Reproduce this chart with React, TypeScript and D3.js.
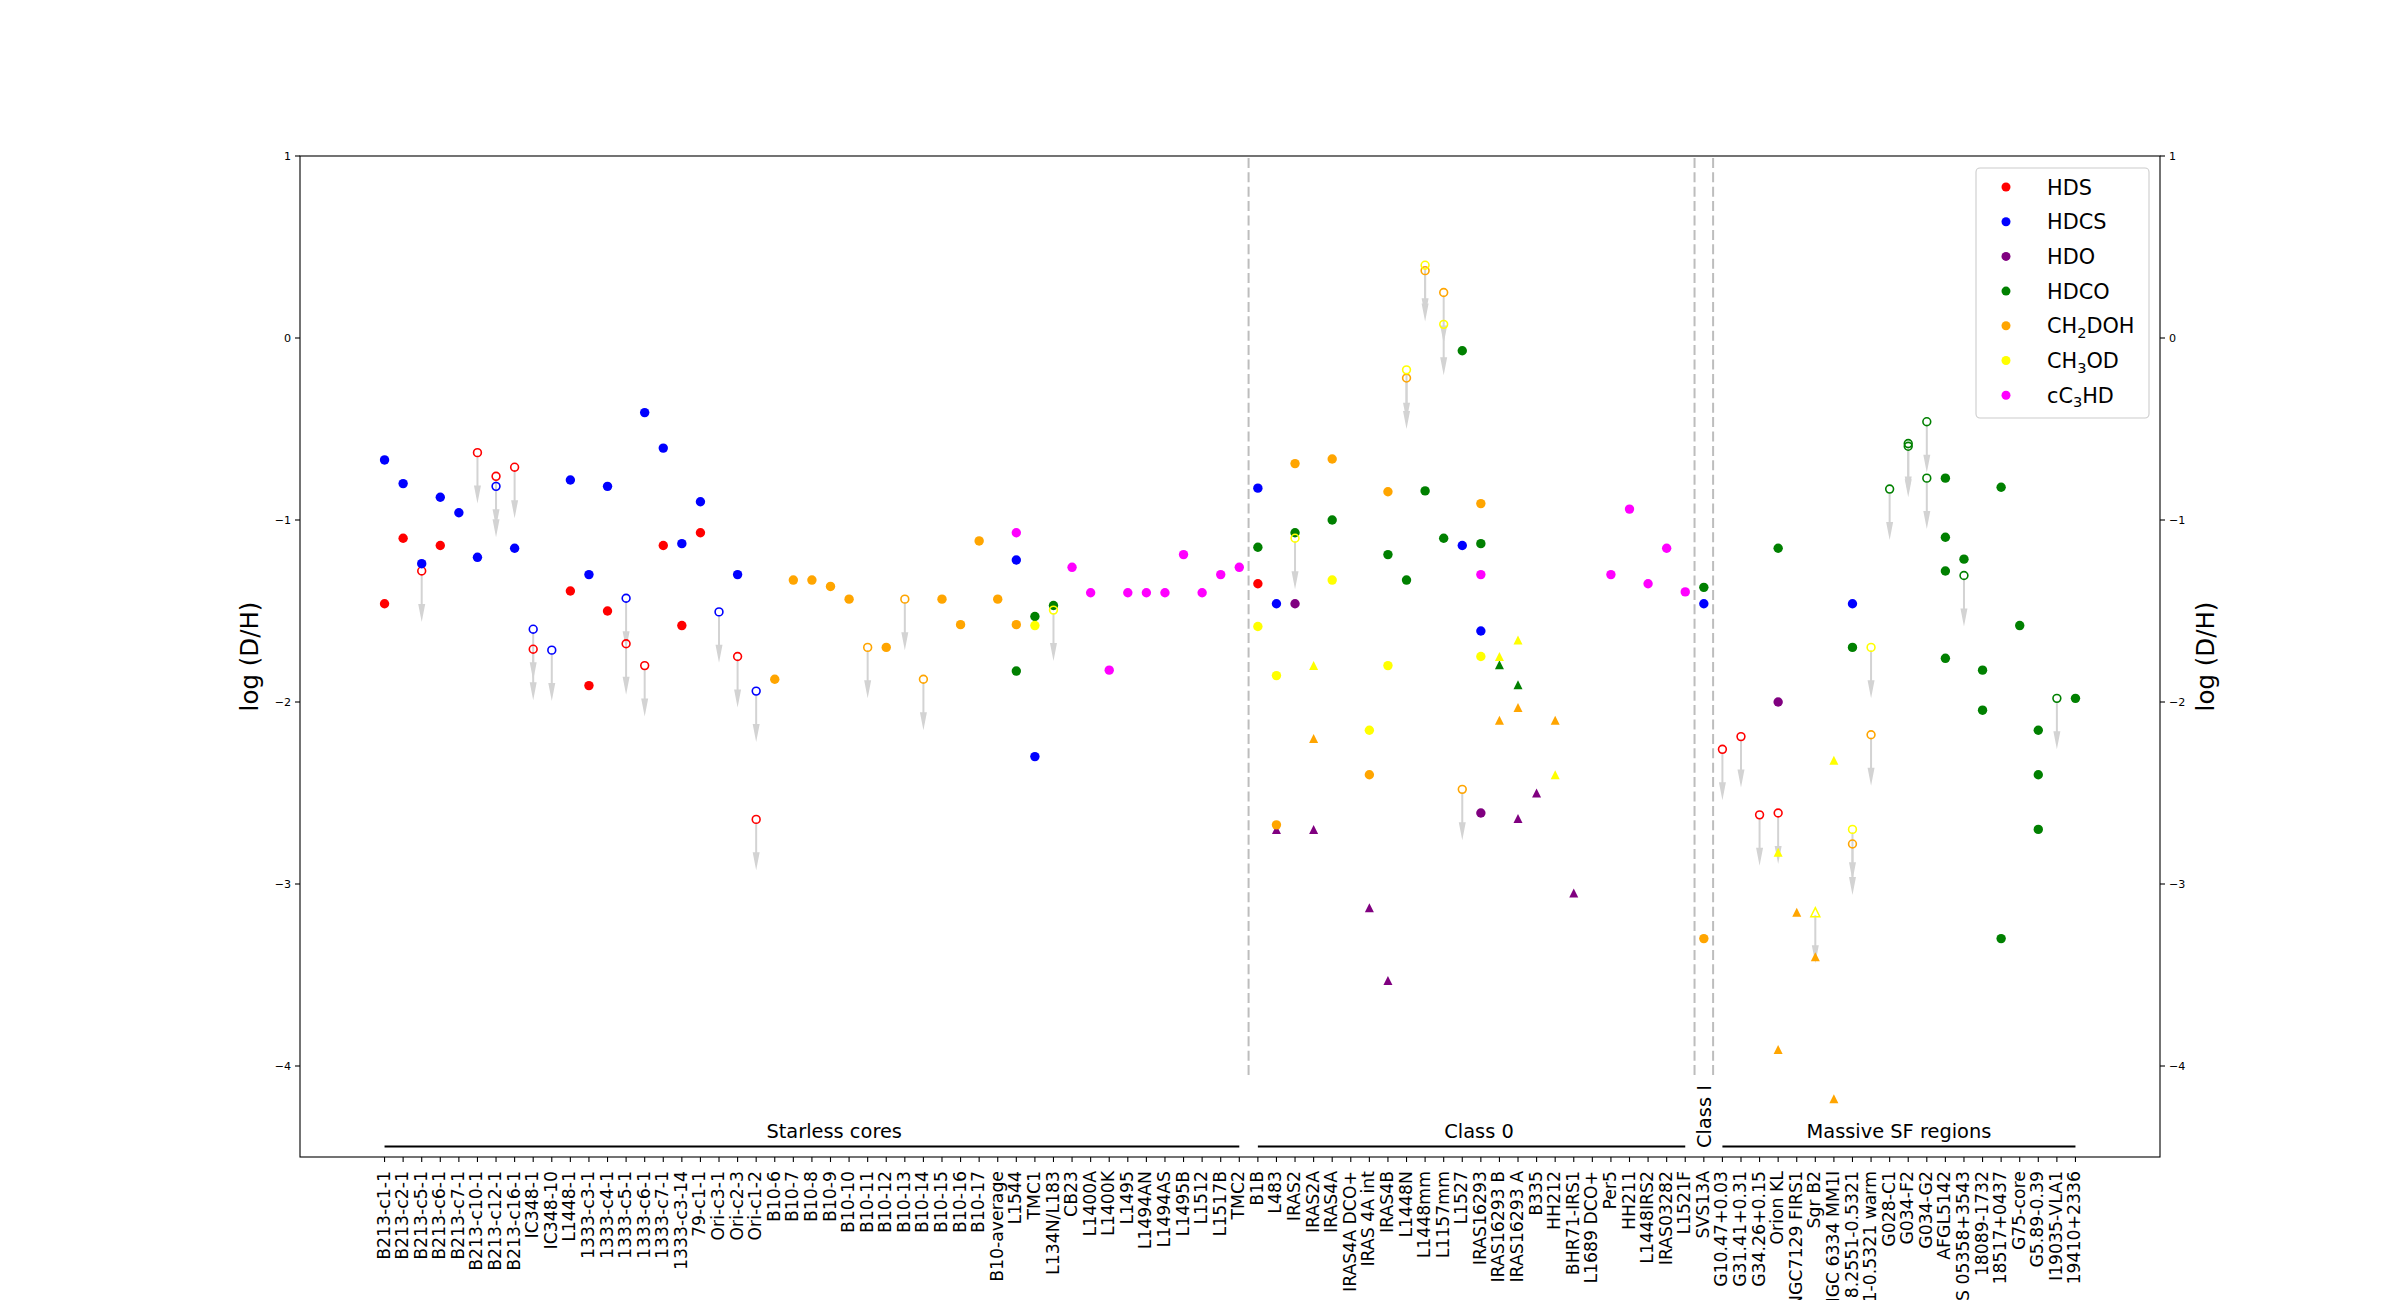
import * as React from "react";
import * as d3 from "d3";

// Source categories, in plotting order
const starless = [
    "B213-c1-1", "B213-c2-1", "B213-c5-1", "B213-c6-1", "B213-c7-1", "B213-c10-1", "B213-c12-1", "B213-c16-1",
    "IC348-1", "IC348-10", "L1448-1", "1333-c3-1", "1333-c4-1", "1333-c5-1", "1333-c6-1", "1333-c7-1",
    "1333-c3-14", "79-c1-1", "Ori-c3-1", "Ori-c2-3", "Ori-c1-2", "B10-6", "B10-7", "B10-8", "B10-9", "B10-10",
    "B10-11", "B10-12", "B10-13", "B10-14", "B10-15", "B10-16", "B10-17", "B10-average", "L1544", "TMC1",
    "L134N/L183", "CB23", "L1400A", "L1400K", "L1495", "L1494AN", "L1494AS", "L1495B", "L1512", "L1517B", "TMC2"
];
const class0 = [
    "B1B", "L483", "IRAS2", "IRAS2A", "IRAS4A", "IRAS4A DCO+", "IRAS 4A int", "IRAS4B", "L1448N", "L1448mm",
    "L1157mm", "L1527", "IRAS16293", "IRAS16293 B", "IRAS16293 A", "B335", "HH212", "BHR71-IRS1",
    "L1689 DCO+", "Per5", "HH211", "L1448IRS2", "IRAS03282", "L1521F"
];
const class1 = ["SVS13A"];
const massive = [
    "G10.47+0.03", "G31.41+0.31", "G34.26+0.15", "Orion KL", "NGC7129 FIRS1", "Sgr B2", "NGC 6334 MM1I",
    "G328.2551-0.5321", "G328.2551-0.5321 warm", "G028-C1", "G034-F2", "G034-G2", "AFGL5142",
    "IRAS 05358+3543", "18089-1732", "18517+0437", "G75-core", "G5.89-0.39", "I19035-VLA1", "19410+2336"
];
const categories = [...starless, ...class0, ...class1, ...massive];

// [source, log(D/H), kind]  kind: det = detection, lim = upper limit, tri = other estimate, triLim = its upper limit
type Obs = [string, number, string];

const HDS: Obs[] = [
    ["B213-c1-1", -1.46, "det"], ["B213-c2-1", -1.10, "det"], ["B213-c5-1", -1.28, "lim"], ["B213-c6-1", -1.14, "det"],
    ["B213-c10-1", -0.63, "lim"], ["B213-c12-1", -0.76, "lim"], ["B213-c16-1", -0.71, "lim"], ["IC348-1", -1.71, "lim"],
    ["L1448-1", -1.39, "det"], ["1333-c3-1", -1.91, "det"], ["1333-c4-1", -1.50, "det"], ["1333-c5-1", -1.68, "lim"],
    ["1333-c6-1", -1.80, "lim"], ["1333-c7-1", -1.14, "det"], ["1333-c3-14", -1.58, "det"], ["79-c1-1", -1.07, "det"],
    ["Ori-c2-3", -1.75, "lim"], ["Ori-c1-2", -2.645, "lim"], ["B1B", -1.35, "det"],
    ["G10.47+0.03", -2.26, "lim"], ["G31.41+0.31", -2.19, "lim"], ["G34.26+0.15", -2.62, "lim"], ["Orion KL", -2.61, "lim"]
];

const HDCS: Obs[] = [
    ["B213-c1-1", -0.67, "det"], ["B213-c2-1", -0.80, "det"], ["B213-c5-1", -1.24, "det"], ["B213-c6-1", -0.875, "det"],
    ["B213-c7-1", -0.96, "det"], ["B213-c10-1", -1.205, "det"], ["B213-c12-1", -0.815, "lim"], ["B213-c16-1", -1.155, "det"],
    ["IC348-1", -1.60, "lim"], ["IC348-10", -1.715, "lim"], ["L1448-1", -0.78, "det"], ["1333-c3-1", -1.30, "det"],
    ["1333-c4-1", -0.815, "det"], ["1333-c5-1", -1.43, "lim"], ["1333-c6-1", -0.41, "det"], ["1333-c7-1", -0.605, "det"],
    ["1333-c3-14", -1.13, "det"], ["79-c1-1", -0.90, "det"], ["Ori-c3-1", -1.505, "lim"], ["Ori-c2-3", -1.30, "det"],
    ["Ori-c1-2", -1.94, "lim"], ["L1544", -1.22, "det"], ["TMC1", -2.30, "det"], ["B1B", -0.825, "det"],
    ["L483", -1.46, "det"], ["L1527", -1.14, "det"], ["IRAS16293", -1.61, "det"], ["SVS13A", -1.46, "det"],
    ["G328.2551-0.5321", -1.46, "det"]
];

const HDO: Obs[] = [
    ["IRAS2", -1.46, "det"], ["IRAS16293", -2.61, "det"], ["Orion KL", -2.00, "det"],
    ["L483", -2.70, "tri"], ["IRAS2A", -2.70, "tri"], ["IRAS 4A int", -3.13, "tri"], ["IRAS4B", -3.53, "tri"],
    ["IRAS16293 A", -2.64, "tri"], ["B335", -2.50, "tri"], ["BHR71-IRS1", -3.05, "tri"]
];

const HDCO: Obs[] = [
    ["L1544", -1.83, "det"], ["TMC1", -1.53, "det"], ["L134N/L183", -1.47, "det"], ["B1B", -1.15, "det"],
    ["IRAS2", -1.07, "det"], ["IRAS4A", -1.00, "det"], ["IRAS4B", -1.19, "det"], ["L1448N", -1.33, "det"],
    ["L1448mm", -0.84, "det"], ["L1157mm", -1.10, "det"], ["L1527", -0.07, "det"], ["IRAS16293", -1.13, "det"],
    ["IRAS16293 B", -1.795, "tri"], ["IRAS16293 A", -1.905, "tri"], ["SVS13A", -1.37, "det"],
    ["Orion KL", -1.155, "det"], ["G328.2551-0.5321", -1.70, "det"], ["G028-C1", -0.83, "lim"],
    ["G034-F2", -0.58, "lim"], ["G034-F2", -0.595, "lim"], ["G034-G2", -0.46, "lim"], ["G034-G2", -0.77, "lim"],
    ["AFGL5142", -0.77, "det"], ["AFGL5142", -1.095, "det"], ["AFGL5142", -1.28, "det"], ["AFGL5142", -1.76, "det"],
    ["IRAS 05358+3543", -1.215, "det"], ["IRAS 05358+3543", -1.305, "lim"], ["18089-1732", -1.825, "det"],
    ["18089-1732", -2.045, "det"], ["18517+0437", -0.82, "det"], ["18517+0437", -3.30, "det"], ["G75-core", -1.58, "det"],
    ["G5.89-0.39", -2.155, "det"], ["G5.89-0.39", -2.40, "det"], ["G5.89-0.39", -2.70, "det"],
    ["I19035-VLA1", -1.98, "lim"], ["19410+2336", -1.98, "det"]
];

const CH2DOH: Obs[] = [
    ["B10-6", -1.875, "det"], ["B10-7", -1.33, "det"], ["B10-8", -1.33, "det"], ["B10-9", -1.365, "det"],
    ["B10-10", -1.435, "det"], ["B10-11", -1.70, "lim"], ["B10-12", -1.70, "det"], ["B10-13", -1.435, "lim"],
    ["B10-14", -1.875, "lim"], ["B10-15", -1.435, "det"], ["B10-16", -1.575, "det"], ["B10-17", -1.115, "det"],
    ["B10-average", -1.435, "det"], ["L1544", -1.575, "det"], ["L483", -2.675, "det"], ["IRAS2", -0.69, "det"],
    ["IRAS2A", -2.20, "tri"], ["IRAS4A", -0.665, "det"], ["IRAS 4A int", -2.40, "det"], ["IRAS4B", -0.845, "det"],
    ["L1448N", -0.22, "lim"], ["L1448mm", 0.37, "lim"], ["L1157mm", 0.25, "lim"], ["L1527", -2.48, "lim"],
    ["IRAS16293", -0.91, "det"], ["IRAS16293 B", -2.10, "tri"], ["IRAS16293 A", -2.03, "tri"], ["HH212", -2.10, "tri"],
    ["SVS13A", -3.30, "det"], ["Orion KL", -3.91, "tri"], ["NGC7129 FIRS1", -3.155, "tri"], ["Sgr B2", -3.40, "tri"],
    ["NGC 6334 MM1I", -4.18, "tri"], ["G328.2551-0.5321", -2.78, "lim"], ["G328.2551-0.5321 warm", -2.18, "lim"]
];

const CH3OD: Obs[] = [
    ["TMC1", -1.58, "det"], ["L134N/L183", -1.495, "lim"], ["B1B", -1.585, "det"], ["L483", -1.855, "det"],
    ["IRAS2", -1.10, "lim"], ["IRAS2A", -1.80, "tri"], ["IRAS4A", -1.33, "det"], ["IRAS 4A int", -2.155, "det"],
    ["IRAS4B", -1.80, "det"], ["L1448N", -0.175, "lim"], ["L1448mm", 0.40, "lim"], ["L1157mm", 0.075, "lim"],
    ["IRAS16293", -1.75, "det"], ["IRAS16293 B", -1.75, "tri"], ["IRAS16293 A", -1.66, "tri"], ["HH212", -2.40, "tri"],
    ["Orion KL", -2.825, "tri"], ["Sgr B2", -3.155, "triLim"], ["NGC 6334 MM1I", -2.32, "tri"],
    ["G328.2551-0.5321", -2.70, "lim"], ["G328.2551-0.5321 warm", -1.70, "lim"]
];

const cC3HD: Obs[] = [
    ["L1544", -1.07, "det"], ["CB23", -1.26, "det"], ["L1400A", -1.40, "det"], ["L1400K", -1.825, "det"],
    ["L1495", -1.40, "det"], ["L1494AN", -1.40, "det"], ["L1494AS", -1.40, "det"], ["L1495B", -1.19, "det"],
    ["L1512", -1.40, "det"], ["L1517B", -1.30, "det"], ["TMC2", -1.26, "det"], ["IRAS16293", -1.30, "det"],
    ["Per5", -1.30, "det"], ["HH211", -0.94, "det"], ["L1448IRS2", -1.35, "det"], ["IRAS03282", -1.155, "det"],
    ["L1521F", -1.395, "det"]
];

const species = [
    { name: "HDS", data: HDS, color: "#ff0000" },
    { name: "HDCS", data: HDCS, color: "#0000ff" },
    { name: "HDO", data: HDO, color: "#800080" },
    { name: "HDCO", data: HDCO, color: "#008000" },
    { name: "CH2DOH", data: CH2DOH, color: "#ffa500" },
    { name: "CH3OD", data: CH3OD, color: "#ffff00" },
    { name: "cC3HD", data: cC3HD, color: "#ff00ff" }
];

const groups = [
    { label: "Starless cores", members: starless, labelAt: 24.2 },
    { label: "Class 0", members: class0, labelAt: 58.9 },
    { label: "Class I", members: class1, labelAt: 71 },
    { label: "Massive SF regions", members: massive, labelAt: 81.5 }
];

const yTicks = [1, 0, -1, -2, -3, -4];

const FONT = "DejaVu Sans, Verdana, sans-serif";

// digits become subscripts (CH2DOH -> CH₂DOH)
function chem(name: string, size: number) {
    return name.split(/(\d)/).filter(s => s !== "").map((part, i) => {
        if (/\d/.test(part)) {
            return <tspan key={i} fontSize={size * 0.7} dy={size * 0.22}>{part}</tspan>;
        }
        const prev = name.split(/(\d)/).filter(s => s !== "")[i - 1];
        const back = prev && /\d/.test(prev) ? -size * 0.22 : 0;
        return <tspan key={i} dy={back}>{part}</tspan>;
    });
}

export default function App() {
    const left = 300, right = 2160, top = 156, bottom = 1157;

    let xLin = d3.scaleLinear().domain([-4.55, categories.length - 1 + 4.55]).range([left, right]);
    let x = d3.scalePoint<string>().domain(categories).range([xLin(0), xLin(categories.length - 1)]);
    let y = d3.scaleLinear().domain([-4.5, 1]).range([bottom, top]);
    let step = x.step();

    let r = 4.7;       // marker radius
    let tri = 4.5;     // triangle half size
    let arrowLen = 0.28;

    const arrow = (cx: number, v: number) => {
        let y0 = y(v) + 3;
        let tip = y(v - arrowLen);
        let headL = 18, headW = 3.5, shaft = 1;
        let p = d3.path();
        p.moveTo(cx - shaft, y0);
        p.lineTo(cx + shaft, y0);
        p.lineTo(cx + shaft, tip - headL);
        p.lineTo(cx + headW, tip - headL);
        p.lineTo(cx, tip);
        p.lineTo(cx - headW, tip - headL);
        p.lineTo(cx - shaft, tip - headL);
        p.closePath();
        return p.toString();
    };

    const triPath = (cx: number, cy: number) =>
        `M${cx},${cy - tri}L${cx + tri},${cy + tri}L${cx - tri},${cy + tri}Z`;

    let arrows: JSX.Element[] = [];
    let marks: JSX.Element[] = [];
    species.forEach(s => {
        s.data.forEach((d, i) => {
            let cx = x(d[0]) as number;
            let cy = y(d[1]);
            let key = s.name + i;
            if (d[2] === "lim" || d[2] === "triLim") {
                arrows.push(<path key={key} d={arrow(cx, d[1])} fill="#d3d3d3" />);
            }
            if (d[2] === "det") {
                marks.push(<circle key={key} cx={cx} cy={cy} r={r} fill={s.color} />);
            } else if (d[2] === "lim") {
                marks.push(<circle key={key} cx={cx} cy={cy} r={r - 0.8} fill="none" stroke={s.color} strokeWidth={1.6} />);
            } else if (d[2] === "tri") {
                marks.push(<path key={key} d={triPath(cx, cy)} fill={s.color} />);
            } else {
                marks.push(<path key={key} d={triPath(cx, cy)} fill="none" stroke={s.color} strokeWidth={1.5} />);
            }
        });
    });

    // dashed separators between evolutionary classes
    let separators = groups.slice(0, -1).map(g => (x(g.members[g.members.length - 1]) as number) + step / 2);

    let legendX = 1976, legendY = 168, legendW = 173, legendH = 250, rowH = 34.7;
    let legendFont = 20.8;

    return (
        <svg width={2400} height={1300} style={{ position: "absolute", left: 0, top: 0, background: "#fff" }}
            fontFamily={FONT}>
            <rect x={0} y={0} width={2400} height={1300} fill="#fff" />

            {separators.map((sx, i) =>
                <line key={i} x1={sx} x2={sx} y1={y(-4.05)} y2={top} stroke="#bdbdbd" strokeWidth={2} strokeDasharray="10,4.4" />
            )}

            <g>{arrows}</g>
            <g>{marks}</g>

            {/* group annotations */}
            {groups.map((g, i) => {
                let x1 = x(g.members[0]) as number;
                let x2 = x(g.members[g.members.length - 1]) as number;
                let lx = xLin(g.labelAt);
                return (
                    <g key={i}>
                        {x2 > x1 && <line x1={x1} x2={x2} y1={1146.5} y2={1146.5} stroke="#000" strokeWidth={2} />}
                        {g.members.length > 1
                            ? <text x={lx} y={1138} textAnchor="middle" fontSize={19.4}>{g.label}</text>
                            : <text transform={`translate(${lx},1148) rotate(-90)`} dy="0.35em" fontSize={19.4}>{g.label}</text>}
                    </g>
                );
            })}

            {/* frame */}
            <rect x={left} y={top} width={right - left} height={bottom - top} fill="none" stroke="#000" strokeWidth={1.1} />

            {/* y axes, both sides */}
            {yTicks.map(t => (
                <g key={t}>
                    <line x1={left - 5} x2={left} y1={y(t)} y2={y(t)} stroke="#000" strokeWidth={1.1} />
                    <text x={left - 9} y={y(t)} dy="0.35em" textAnchor="end" fontSize={11.1}>{t < 0 ? "\u2212" + Math.abs(t) : t}</text>
                    <line x1={right} x2={right + 5} y1={y(t)} y2={y(t)} stroke="#000" strokeWidth={1.1} />
                    <text x={right + 9} y={y(t)} dy="0.35em" textAnchor="start" fontSize={11.1}>{t < 0 ? "\u2212" + Math.abs(t) : t}</text>
                </g>
            ))}
            <text transform={`translate(249.5,${(top + bottom) / 2}) rotate(-90)`} dy="0.35em" textAnchor="middle" fontSize={24.5}>log (D/H)</text>
            <text transform={`translate(2205.6,${(top + bottom) / 2}) rotate(-90)`} dy="0.35em" textAnchor="middle" fontSize={24.5}>log (D/H)</text>

            {/* x axis */}
            {categories.map(c => {
                let cx = x(c) as number;
                return (
                    <g key={c}>
                        <line x1={cx} x2={cx} y1={bottom} y2={bottom + 5} stroke="#000" strokeWidth={1.1} />
                        <text transform={`translate(${cx},1171) rotate(-90)`} dy="0.29em" textAnchor="end" fontSize={17.3}>{c}</text>
                    </g>
                );
            })}

            {/* legend */}
            <rect x={legendX} y={legendY} width={legendW} height={legendH} rx={4} fill="#fff" fillOpacity={0.8} stroke="#cccccc" strokeWidth={1.1} />
            {species.map((s, i) => {
                let ry = legendY + 19 + i * rowH;
                return (
                    <g key={s.name}>
                        <circle cx={2006} cy={ry} r={4.5} fill={s.color} />
                        <text x={2047} y={ry + 7.5} fontSize={legendFont}>{chem(s.name, legendFont)}</text>
                    </g>
                );
            })}
        </svg>
    );
}
